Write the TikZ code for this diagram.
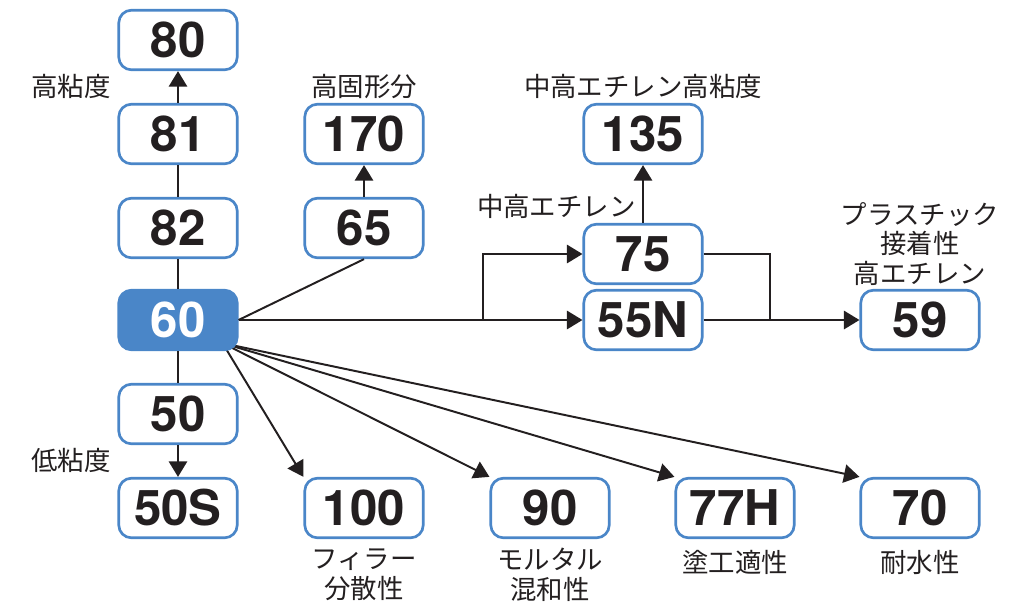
\documentclass[tikz,border=0pt]{standalone}
\usepackage{fontspec}
\setmainfont{TeX Gyre Heros}
\newfontfamily\jpfont{Noto Sans CJK JP}
\usetikzlibrary{calc,arrows.meta,backgrounds}
\definecolor{boxblue}{RGB}{74,134,200}
\definecolor{ink}{RGB}{35,31,32}
\tikzset{
	box/.style={draw=boxblue, line width=1.9pt, rounded corners=9pt, fill=white,
		minimum width=2.96cm, minimum height=1.49cm, inner sep=0pt, text=ink,
		font=\fontsize{35}{35}\selectfont\bfseries},
	hot/.style={box, fill=boxblue, text=white},
	lab/.style={text=ink, font=\jpfont\fontsize{18.8}{21}\selectfont, align=center, inner sep=0pt},
	conn/.style={line width=1.4pt, draw=ink},
	arr/.style={conn, -{Triangle[length=11pt,width=13pt]}},
}

\begin{document}
\begin{tikzpicture}[x=0.025cm, y=-0.025cm]
			%%%%% START %%%%%
			\useasboundingbox (0, 0) rectangle (1011, 608);
			
			% left column
			\node[box] (80) at (178, 40) {80};
			\node[box] (81) at (178, 134) {81};
			\node[box] (82) at (178, 228) {82};
			\node[hot] (60) at (178, 320) {60};
			\node[box] (50) at (178, 414) {50};
			\node[box] (50S) at (178, 508) {50S};
			\node[lab] (hv) at (71, 86) {高粘度};
			\node[lab] (lv) at (71, 460) {低粘度};
			
			% second column
			\node[box] (170) at (364, 134) {170};
			\node[box] (65) at (364, 228) {65};
			\node[lab] (hs) at (364, 87) {高固形分};
			
			% ethylene group
			\node[box] (135) at (643, 134) {135};
			\node[box] (75) at (643, 254) {75};
			\node[box] (55N) at (643, 320) {55N};
			\node[box] (59) at (920, 320) {59};
			\node[lab] (meh) at (643, 86) {中高エチレン高粘度};
			\node[lab, anchor=east] (me) at (636, 206) {中高エチレン};
			\node[lab] (pl) at (920, 244) {プラスチック\\接着性\\高エチレン};
			
			% bottom row
			\node[box] (100) at (364, 508) {100};
			\node[box] (90) at (550, 508) {90};
			\node[box] (77H) at (735, 508) {77H};
			\node[box] (70) at (920, 508) {70};
			\node[lab] (fl) at (364, 575) {フィラー\\分散性};
			\node[lab] (mo) at (550, 575) {モルタル\\混和性};
			\node[lab] (co) at (735, 562) {塗工適性};
			\node[lab] (wr) at (920, 562) {耐水性};
			
			% connectors
			\draw[conn] (60) -- (82);
			\draw[conn] (82) -- (81);
			\draw[arr] (81) -- (80);
			\draw[conn] (60) -- (50);
			\draw[arr] (50) -- (50S);
			\draw[conn] (60.east) -- (65.south);
			\draw[arr] (65) -- (170);
			
			\coordinate (split) at (483, 320);
			\coordinate (join) at (770, 320);
			\draw[arr] (60.east) -- (55N.west);
			\draw[arr] (split) |- (75.west);
			\draw[arr] (75) -- (135);
			\draw[conn] (75.east) -| (join);
			\draw[arr] (55N.east) -- (59.west);
			
			\begin{scope}[on background layer]
				\coordinate (fan) at ($(60.south east)+(-16,-8)$);
				\draw[arr] (fan) -- (100.north west);
				\draw[arr] (fan) -- (90.north west);
				\draw[arr] (fan) -- (77H.north west);
				\draw[arr] (fan) -- (70.north west);
			\end{scope}
			
			%%%%% END %%%%%
\end{tikzpicture}
\end{document}
